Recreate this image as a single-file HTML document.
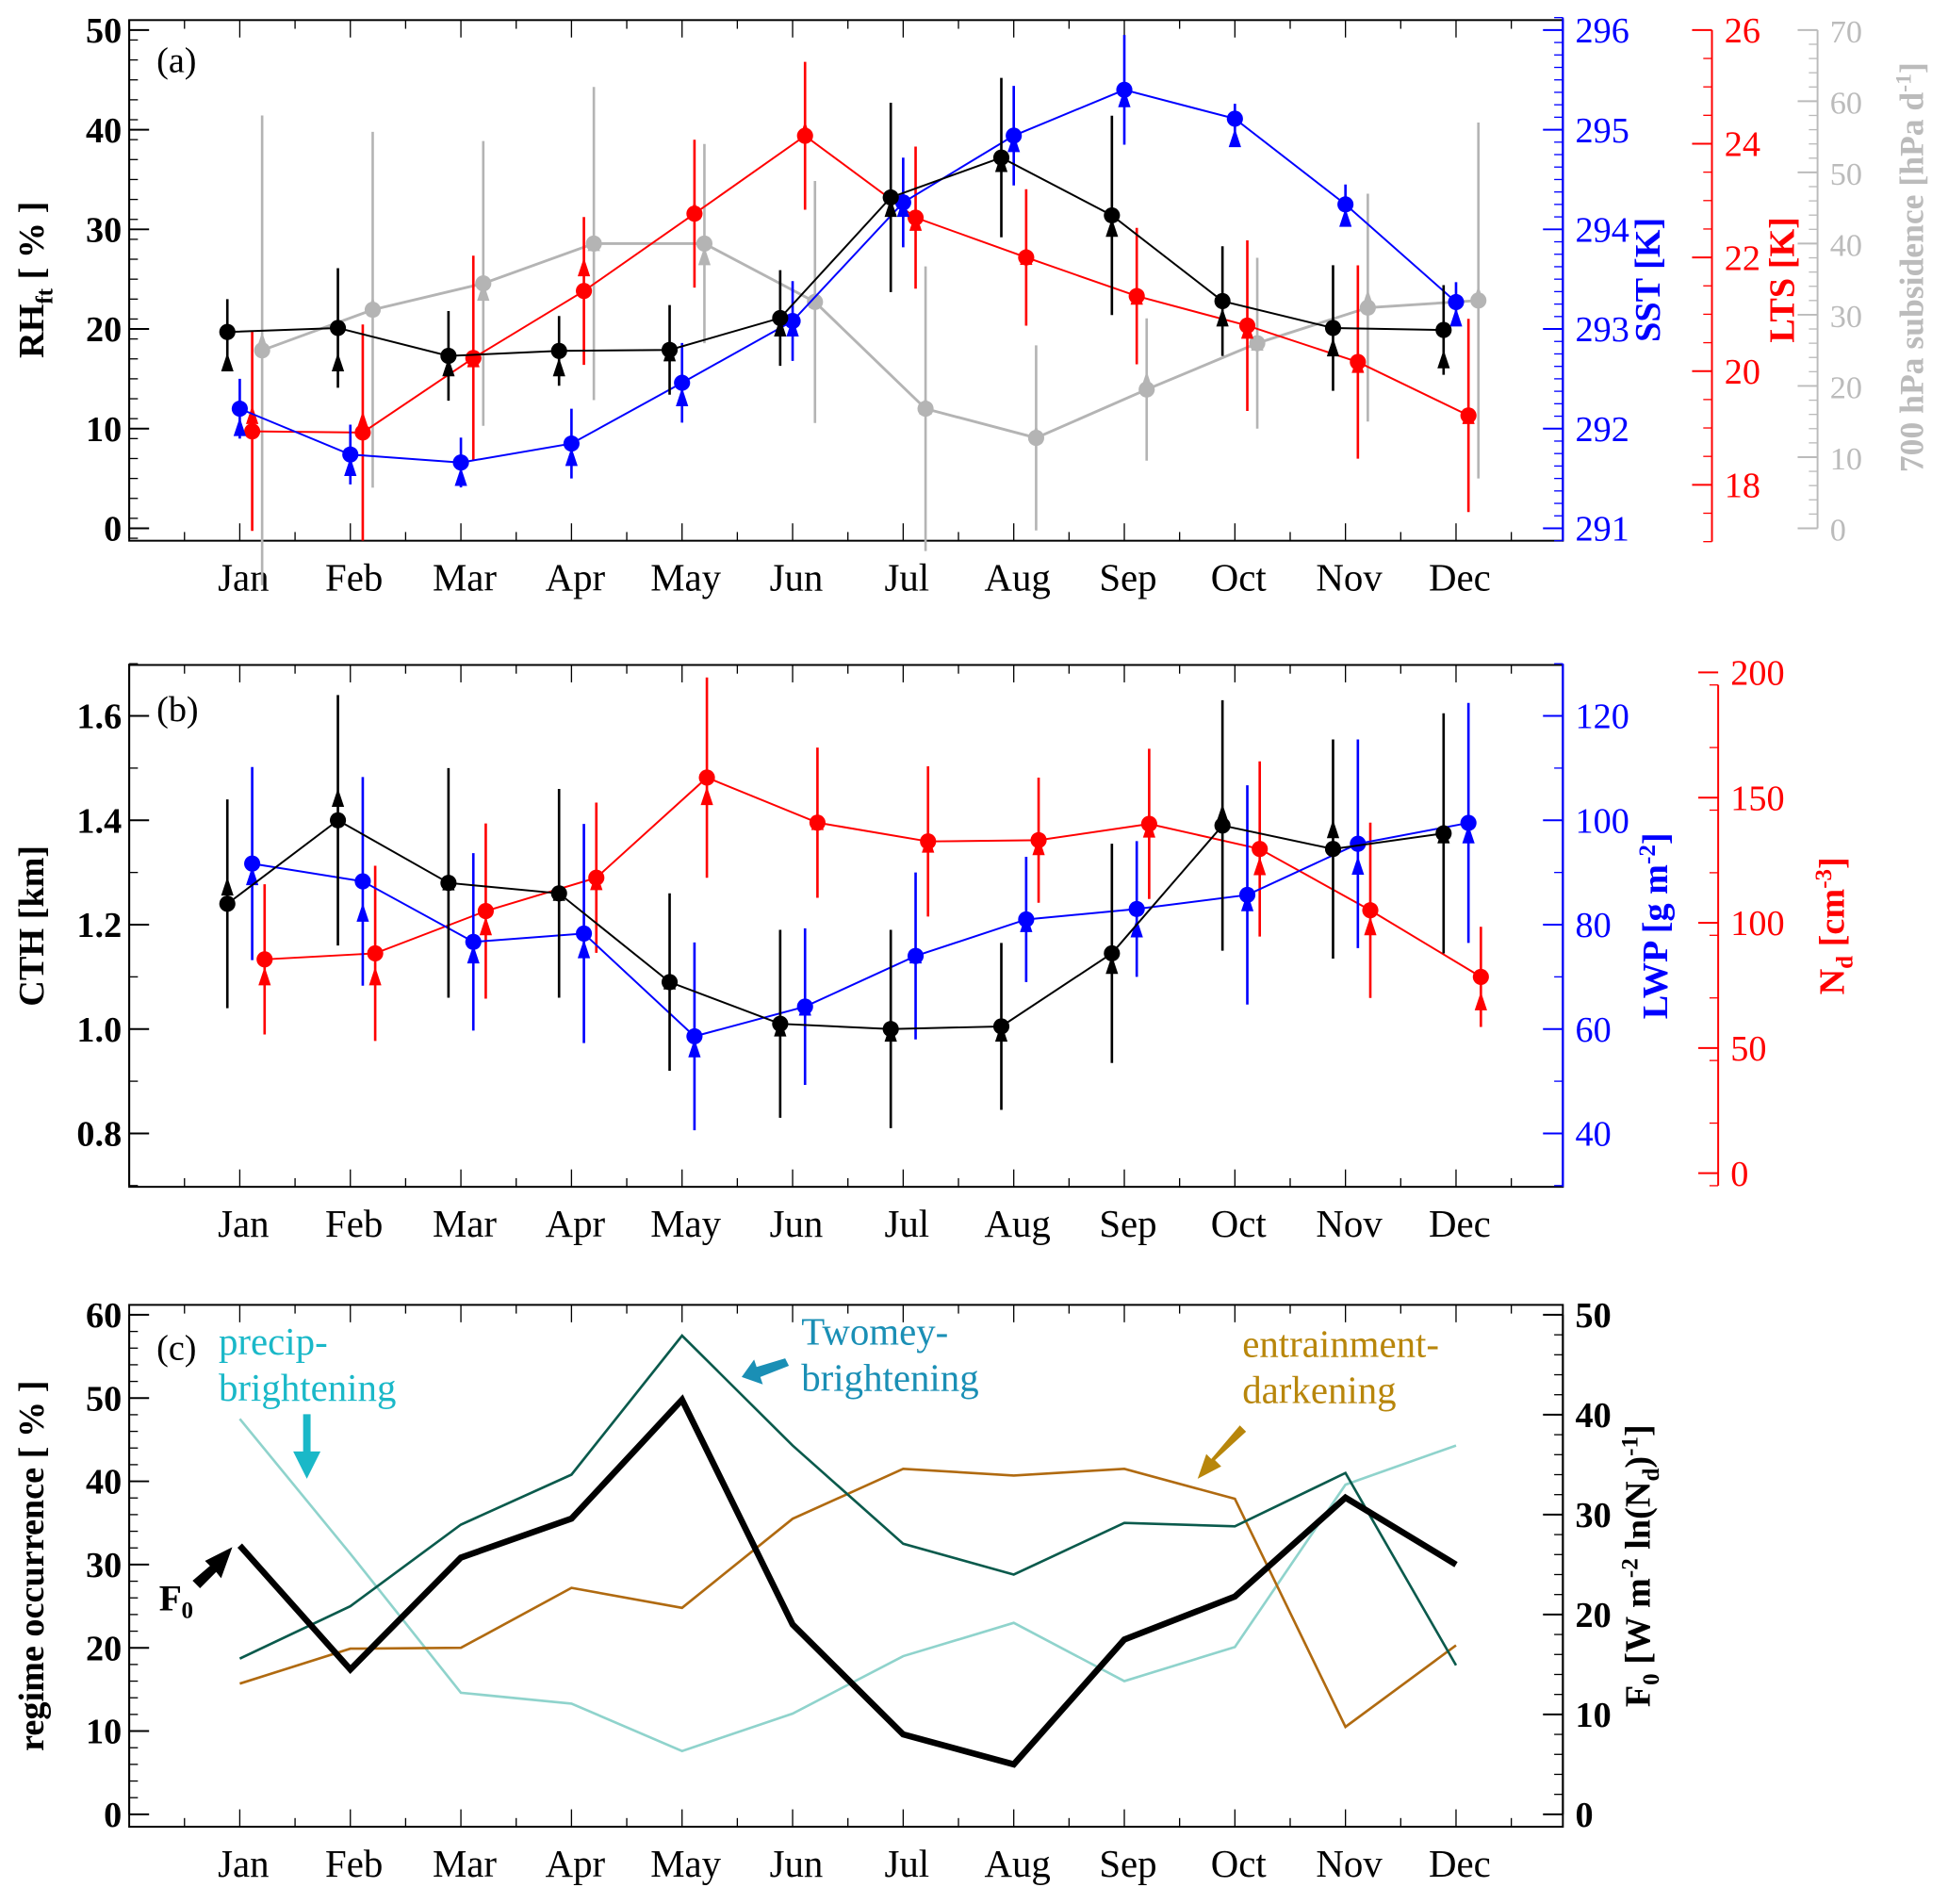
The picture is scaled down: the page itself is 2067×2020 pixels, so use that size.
<!DOCTYPE html>
<html><head><meta charset="utf-8"><style>
html,body{margin:0;padding:0;background:#fff}
svg{display:block;font-family:"Liberation Serif",serif}
</style></head><body>
<svg id="fig" width="2067" height="2020" viewBox="0 0 1568 1532" xmlns="http://www.w3.org/2000/svg"></svg>
<script>
const months=["Jan","Feb","Mar","Apr","May","Jun","Jul","Aug","Sep","Oct","Nov","Dec"];
// panel a
const rhVals=[19.7,20.1,17.3,17.8,17.9,21.1,33.2,37.2,31.4,22.8,20.1,19.9];
const rhErr=[3.3,6,4.5,3.5,4.5,4.8,9.5,8,10,5.5,6.3,4.5];
const rhTri=[16.5,16.5,16,16,17.5,20,32,36.5,30,21,18,16.8];
const sstVals=[292.2,291.74,291.66,291.85,292.46,293.08,294.27,294.94,295.4,295.11,294.25,293.27];
const sstErr=[0.3,0.3,0.25,0.35,0.4,0.4,0.45,0.5,0.55,0.15,0.2,0.2];
const sstTri=[292.0,291.6,291.5,291.7,292.3,293.0,294.2,294.85,295.3,294.9,294.1,293.1];
const ltsVals=[18.94,18.92,20.23,21.41,22.77,24.14,22.7,22.0,21.32,20.8,20.16,19.22];
const ltsErr=[1.75,1.9,1.8,1.3,1.3,1.3,1.25,1.2,1.2,1.5,1.7,1.7];
const ltsTri=[19.2,19.1,20.2,21.8,22.8,24.2,22.6,22.0,21.3,20.7,20.1,19.2];
const subVals=[25,30.7,34.4,40,40,31.8,16.8,12.7,19.5,26,31,32];
const subErr=[33,25,20,22,14,17,20,13,10,12,16,25];
const subTri=[26,31,33,40,38,32,17,13,20.5,26,32,32.5];
// panel b
const cthVals=[1.24,1.40,1.28,1.26,1.09,1.01,1.0,1.005,1.145,1.39,1.345,1.375];
const cthErr=[0.2,0.24,0.22,0.2,0.17,0.18,0.19,0.16,0.21,0.24,0.21,0.23];
const cthTri=[1.27,1.44,1.28,1.26,1.09,1.0,0.99,0.99,1.12,1.41,1.38,1.37];
const lwpVals=[91.7,88.3,76.7,78.3,58.6,64.3,74,81,83,85.7,95.5,99.5];
const lwpErr=[18.5,20,17,21,18,15,16,12,13,21,20,23];
const lwpTri=[89,82,74,75,56,64,74,80,79,84,91,97];
const ndVals=[85.4,87.8,104.7,118,158,140,132.5,133,139.5,129.5,105,78.4];
const ndErr=[30,35,35,30,40,30,30,25,30,35,35,20];
const ndTri=[78,78,98,116,150,140,131,130,137,122,98,68];
// panel c
const twomey=[18.7,25,34.8,40.8,57.5,44.3,32.5,28.8,35,34.6,41,17.9];
const entrain=[15.7,19.9,20,27.2,24.8,35.5,41.5,40.7,41.5,37.9,10.5,20.3];
const precip=[47.5,31.3,14.6,13.3,7.6,12.1,19,23,16,20.1,39.6,44.3];
const f0Vals=[26.9,14.5,25.7,29.6,41.5,19,8,5,17.5,21.8,31.7,25];

const svg=document.getElementById('fig');const NS="http://www.w3.org/2000/svg";
function mk(tag,at,parent){const e=document.createElementNS(NS,tag);for(const k in at)e.setAttribute(k,at[k]);(parent||svg).appendChild(e);return e;}
function txt(s,at,parent){const e=mk('text',at,parent);e.textContent=s;return e;}
const X0=104,X1=1258;
function xm(i){return 193+89*i;}
function lin(v0,p0,v1,p1){return v=>p0+(v-v0)*(p1-p0)/(v1-v0);}

function frame(top,bot,name){
  const g=mk('g',{});
  
  
  mk('rect',{x:X0,y:top,width:X1-X0,height:bot-top,fill:'none',stroke:'#000','stroke-width':1.5},g);
  for(let i=-1;i<=13;i++){const x=193+89*(i)-44.5;if(x>X0&&x<X1){mk('line',{x1:x,y1:bot,x2:x,y2:bot-7,stroke:'#000'},g);mk('line',{x1:x,y1:top,x2:x,y2:top+7,stroke:'#000'},g);}}
  for(let i=0;i<12;i++){const x=xm(i);mk('line',{x1:x,y1:bot,x2:x,y2:bot-14,stroke:'#000'},g);mk('line',{x1:x,y1:top,x2:x,y2:top+14,stroke:'#000'},g);
    const t=txt(months[i],{x:x+3,y:bot+40,'font-size':31,'text-anchor':'middle'},g);
    
    }
  return g;
}
function axisL(g,sc,ticks,minor,color,x,dir,fs,bold,labelSide){
  mk('line',{x1:x,y1:Math.min(sc(minor[0]),sc(minor[minor.length-1])),x2:x,y2:Math.max(sc(minor[0]),sc(minor[minor.length-1])),stroke:color,'stroke-width':1.5},g);
  minor.forEach(v=>mk('line',{x1:x,y1:sc(v),x2:x+dir*7,y2:sc(v),stroke:color},g));
  ticks.forEach(v=>{mk('line',{x1:x,y1:sc(v),x2:x+dir*16,y2:sc(v),stroke:color,'stroke-width':1.5},g);
    const tx=labelSide<0?x-6:x+10;
    txt(String(v),{x:tx,y:sc(v)+10,'font-size':fs,'text-anchor':labelSide<0?'end':'start',fill:color,'font-weight':bold?'bold':'normal'},g);});
}
function range(a,b,s){const r=[];for(let v=a;v<=b+1e-9;v+=s)r.push(+v.toFixed(4));return r;}
function vlabel(s,x,y,color,name,sub,after){
  const t=mk('text',{transform:`translate(${x},${y}) rotate(-90)`,'font-size':29,'font-weight':'bold','text-anchor':'middle',fill:color});
  
  
  t.appendChild(document.createTextNode(s));
  if(sub){const ts=mk('tspan',{'font-size':19,dy:7},t);ts.textContent=sub;const t2=mk('tspan',{dy:-7},t);t2.textContent=after;}
  return t;
}
function series(g,vals,err,tri,sc,dx,color,name,lw){
  const pts=vals.map((v,i)=>[xm(i)+dx,sc(v)]);
  const pl=mk('polyline',{points:pts.map(p=>p.join(',')).join(' '),fill:'none',stroke:color,'stroke-width':lw||1.5},g);
  
  
  vals.forEach((v,i)=>{
    const x=xm(i)+dx;
    if(err){const e=mk('line',{x1:x,y1:sc(v-err[i]),x2:x,y2:sc(v+err[i]),stroke:color,'stroke-width':2},g);
      
      }
    if(tri){const ty=sc(tri[i]);const t=mk('polygon',{points:`${x-5},${ty+6} ${x+5},${ty+6} ${x},${ty-9}`,fill:color},g);
      
      }
    const c=mk('circle',{cx:x,cy:sc(v),r:6.5,fill:color},g);
    
    
  });
}

// ===== Panel a =====
let g=frame(16,435,'panel-a');
const yRH=lin(0,425,50,24), ySST=lin(291,425,296,24), yLTS=lin(18,390,26,24), ySub=lin(0,425,70,24);
axisL(g,yRH,range(0,50,10),range(-1,51,2),'#000',X0,1,29,true,-1);
axisL(g,ySST,range(291,296,1),range(290.875,296.125,0.125),'#00f',X1,-1,29,false,1);
mk('line',{x1:X1,y1:16,x2:X1,y2:435,stroke:'#00f','stroke-width':1.5},g);
axisL(g,yLTS,range(18,26,2),range(17,26,0.5),'#f00',1378,-1,29,false,1);
axisL(g,ySub,range(0,70,10),range(0,70,2),'#bbb',1463,-1,26,false,1);
txt('(a)',{x:126,y:58,'font-size':29},g);
series(g,subVals,subErr,subTri,ySub,18,'#b4b4b4','subsidence',2.2);
series(g,ltsVals,ltsErr,ltsTri,yLTS,10,'#f00','lts');
series(g,sstVals,sstErr,sstTri,ySST,0,'#00f','sst');
series(g,rhVals,rhErr,rhTri,yRH,-10,'#000','rh-ft');
vlabel('RH',35,225,'#000','y-axis-title-rh','ft',' [ % ]');
vlabel('SST [K]',1336,225,'#00f','y-axis-title-sst');
vlabel('LTS [K]',1444,225,'#f00','y-axis-title-lts');
(function(){const t=mk('text',{transform:'translate(1548,215) rotate(-90)','font-size':27,'font-weight':'bold','text-anchor':'middle',fill:'#bbb'});


t.appendChild(document.createTextNode('700 hPa subsidence [hPa d'));const s=mk('tspan',{'font-size':18,dy:-10},t);s.textContent='-1';const s2=mk('tspan',{dy:10},t);s2.textContent=']';})();

// ===== Panel b =====
g=frame(535,955,'panel-b');
const yCTH=lin(0.8,912,1.6,576), yLWP=lin(40,912,120,576), yND=lin(0,944,200,541);
axisL(g,yCTH,[0.8,1.0,1.2,1.4,1.6],range(0.7,1.7,0.1),'#000',X0,1,29,true,-1);
g.querySelectorAll('text').forEach(t=>{if(/^(0\.8|1|1\.2|1\.4|1\.6)$/.test(t.textContent))t.textContent=(+t.textContent).toFixed(1);});
axisL(g,yLWP,range(40,120,20),range(30,130,10),'#00f',X1,-1,29,false,1);
mk('line',{x1:X1,y1:535,x2:X1,y2:955,stroke:'#00f','stroke-width':1.5},g);
axisL(g,yND,range(0,200,50),range(-5,200,25),'#f00',1383,-1,29,false,1);
txt('(b)',{x:126,y:580,'font-size':29},g);
series(g,ndVals,ndErr,ndTri,yND,20,'#f00','nd');
series(g,lwpVals,lwpErr,lwpTri,yLWP,10,'#00f','lwp');
series(g,cthVals,cthErr,cthTri,yCTH,-10,'#000','cth');
vlabel('CTH [km]',35,745,'#000','y-axis-title-cth');
(function(){const t=mk('text',{transform:'translate(1342,745) rotate(-90)','font-size':29,'font-weight':'bold','text-anchor':'middle',fill:'#00f'});


t.appendChild(document.createTextNode('LWP [g m'));const s=mk('tspan',{'font-size':19,dy:-10},t);s.textContent='-2';const s2=mk('tspan',{dy:10},t);s2.textContent=']';})();
(function(){const t=mk('text',{transform:'translate(1484,745) rotate(-90)','font-size':29,'font-weight':'bold','text-anchor':'middle',fill:'#f00'});


t.appendChild(document.createTextNode('N'));const a=mk('tspan',{'font-size':19,dy:7},t);a.textContent='d';const b=mk('tspan',{dy:-7},t);b.textContent=' [cm';const s=mk('tspan',{'font-size':19,dy:-10},t);s.textContent='-3';const s2=mk('tspan',{dy:10},t);s2.textContent=']';})();

// ===== Panel c =====
g=frame(1050,1470,'panel-c');
const yOcc=lin(0,1460,60,1058), yF0=lin(0,1460,50,1058);
axisL(g,yOcc,range(0,60,10),range(0,60,2),'#000',X0,1,29,true,-1);
axisL(g,yF0,range(0,50,10),range(0,50,2),'#000',X1,-1,29,true,1);
txt('(c)',{x:126,y:1094,'font-size':29},g);
function cline(vals,sc,color,w,name){const pl=mk('polyline',{points:vals.map((v,i)=>xm(i)+','+sc(v)).join(' '),fill:'none',stroke:color,'stroke-width':w},g);
  
  }
cline(precip,yOcc,'#8fd3cc',2,'precip-brightening-line');
cline(entrain,yOcc,'#b06a10',2,'entrainment-darkening-line');
cline(twomey,yOcc,'#0a5a4c',2,'twomey-brightening-line');
cline(f0Vals,yF0,'#000',5,'f0-line');
txt('precip-',{x:176,y:1090,'font-size':31,fill:'#1ab8c8'},g);
txt('brightening',{x:176,y:1127,'font-size':31,fill:'#1ab8c8'},g);
mk('polygon',{points:'244,1138 250,1138 250,1168 258,1168 247,1190 236,1168 244,1168',fill:'#1ab8c8'},g);
txt('Twomey-',{x:645,y:1082,'font-size':31,fill:'#1a8fb5'},g);
txt('brightening',{x:645,y:1119,'font-size':31,fill:'#1a8fb5'},g);
mk('polygon',{points:'632,1093 635,1099 612,1108 614,1114 597,1108 607,1094 609,1100',fill:'#1a8fb5'},g);
txt('entrainment-',{x:1000,y:1092,'font-size':31,fill:'#b8860b'},g);
txt('darkening',{x:1000,y:1129,'font-size':31,fill:'#b8860b'},g);
mk('polygon',{points:'998,1147 1003,1152 978,1175 983,1180 964,1190 971,1170 975,1174',fill:'#b8860b'},g);
txt('F',{x:128,y:1296,'font-size':30,'font-weight':'bold'},g);
txt('0',{x:146,y:1302,'font-size':19,'font-weight':'bold'},g);
mk('polygon',{points:'155,1272 161,1278 174,1265 178,1270 187,1245 165,1256 169,1260',fill:'#000'},g);
vlabel('regime occurrence [ % ]',35,1260,'#000','y-axis-title-occurrence');
(function(){const t=mk('text',{transform:'translate(1328,1260) rotate(-90)','font-size':29,'font-weight':'bold','text-anchor':'middle',fill:'#000'});


const parts=[['F',0,29],['0',7,19],[' [W m',-7,29],['-2',-10,19],[' ln(N',10,29],['d',7,19],[')',-7,29],['-1',-10,19],[']',10,29]];
parts.forEach(p=>{const s=mk('tspan',{dy:p[1],'font-size':p[2]},t);s.textContent=p[0];});})();
</script>
</body></html>
